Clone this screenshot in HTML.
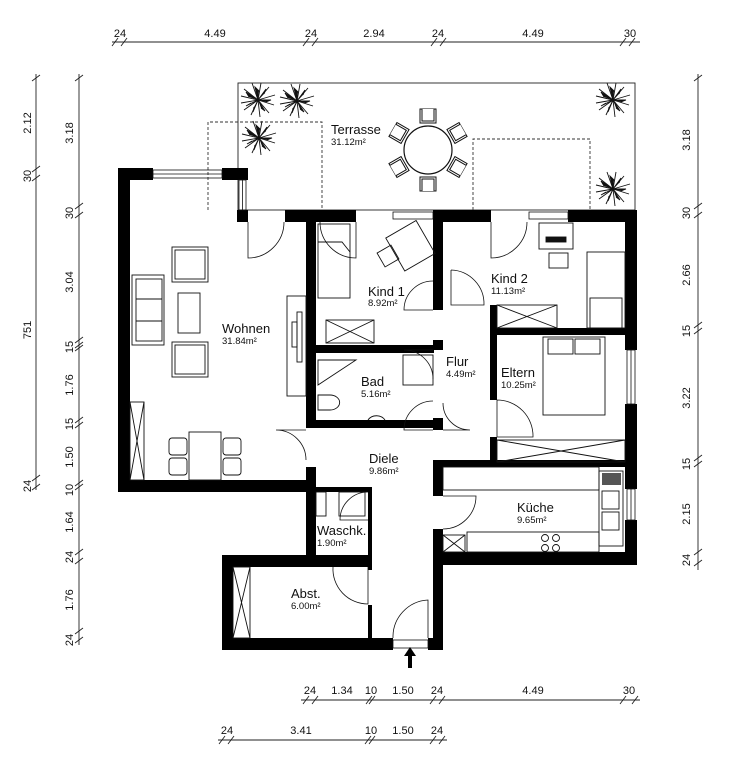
<!DOCTYPE html>
<html><head><meta charset="utf-8"><style>
html,body{margin:0;padding:0;background:#fff}
svg{display:block}
text{font-family:"Liberation Sans",sans-serif;fill:#111}
.t{font-size:13px}
.s{font-size:9.5px}
.d{font-size:11px}
</style></head><body>
<svg width="731" height="768" viewBox="0 0 731 768" xmlns="http://www.w3.org/2000/svg">
<defs>
<g id="pl" stroke="#111" stroke-width="0.9" fill="none">
<path d="M0 0L-17 -4M0 0L-14 -11M0 0L-6 -17M0 0L3 -17M0 0L11 -13M0 0L17 -5M0 0L16 5M0 0L11 13M0 0L2 17M0 0L-7 15M0 0L-14 10M0 0L-17 3"/>
<path d="M0 0L-12 -8L-9 -3M0 0L-3 -13L1 -9M0 0L8 -11L6 -6M0 0L13 0L8 2M0 0L7 11L3 8M0 0L-5 12L-4 7M0 0L-12 6L-7 3" fill="#111"/>
</g>
<g id="ch" stroke="#111" stroke-width="1" fill="#fff">
<path d="M-8 -7L-8 7L8 7L8 -7Z"/><path d="M-6 -7L-6 5L6 5L6 -7"/>
</g>
</defs>
<g stroke="#222" stroke-width="0.9" fill="none">
<line x1="112" y1="42" x2="640" y2="42"/>
<path d="M112 46l6 -8M121 46l6 -8M303 46l6 -8M312 46l6 -8M431 46l6 -8M440 46l6 -8M620 46l6 -8M629 46l6 -8"/>
<line x1="301" y1="700" x2="640" y2="700"/>
<path d="M303 704l6 -8M312 704l6 -8M366 704l6 -8M369 704l6 -8M430 704l6 -8M439 704l6 -8M620 704l6 -8M632 704l6 -8"/>
<line x1="218" y1="740" x2="447" y2="740"/>
<path d="M219 744l6 -8M228 744l6 -8M365 744l6 -8M369 744l6 -8M430 744l6 -8M439 744l6 -8"/>
<line x1="36" y1="74" x2="36" y2="490"/>
<path d="M32 81l8 -6M32 172l8 -6M32 181l8 -6M32 481l8 -6M32 490l8 -6"/>
<line x1="79" y1="74" x2="79" y2="645"/>
<path d="M75 81l8 -6M75 209l8 -6M75 218l8 -6M75 343l8 -6M75 348l8 -6M75 351l8 -6M75 423l8 -6M75 428l8 -6M75 486l8 -6M75 490l8 -6M75 555l8 -6M75 564l8 -6M75 634l8 -6M75 643l8 -6"/>
<line x1="698" y1="74" x2="698" y2="570"/>
<path d="M694 81l8 -6M694 209l8 -6M694 218l8 -6M694 328l8 -6M694 334l8 -6M694 461l8 -6M694 467l8 -6M694 555l8 -6M694 566l8 -6"/>
</g>
<g class="d">
<text x="120" y="37" text-anchor="middle">24</text><text x="215" y="37" text-anchor="middle">4.49</text>
<text x="311" y="37" text-anchor="middle">24</text><text x="374" y="37" text-anchor="middle">2.94</text>
<text x="438" y="37" text-anchor="middle">24</text><text x="533" y="37" text-anchor="middle">4.49</text>
<text x="630" y="37" text-anchor="middle">30</text>
<text x="310" y="694" text-anchor="middle">24</text><text x="342" y="694" text-anchor="middle">1.34</text>
<text x="371" y="694" text-anchor="middle">10</text><text x="403" y="694" text-anchor="middle">1.50</text>
<text x="437" y="694" text-anchor="middle">24</text><text x="533" y="694" text-anchor="middle">4.49</text>
<text x="629" y="694" text-anchor="middle">30</text>
<text x="227" y="734" text-anchor="middle">24</text><text x="301" y="734" text-anchor="middle">3.41</text>
<text x="371" y="734" text-anchor="middle">10</text><text x="403" y="734" text-anchor="middle">1.50</text>
<text x="437" y="734" text-anchor="middle">24</text>
<g text-anchor="middle">
<text transform="translate(31,123) rotate(-90)">2.12</text>
<text transform="translate(31,176) rotate(-90)">30</text>
<text transform="translate(31,330) rotate(-90)">751</text>
<text transform="translate(31,486) rotate(-90)">24</text>
<text transform="translate(73,133) rotate(-90)">3.18</text>
<text transform="translate(73,213) rotate(-90)">30</text>
<text transform="translate(73,282) rotate(-90)">3.04</text>
<text transform="translate(73,347) rotate(-90)">15</text>
<text transform="translate(73,385) rotate(-90)">1.76</text>
<text transform="translate(73,424) rotate(-90)">15</text>
<text transform="translate(73,457) rotate(-90)">1.50</text>
<text transform="translate(73,490) rotate(-90)">10</text>
<text transform="translate(73,522) rotate(-90)">1.64</text>
<text transform="translate(73,557) rotate(-90)">24</text>
<text transform="translate(73,600) rotate(-90)">1.76</text>
<text transform="translate(73,640) rotate(-90)">24</text>
<text transform="translate(690,140) rotate(-90)">3.18</text>
<text transform="translate(690,213) rotate(-90)">30</text>
<text transform="translate(690,275) rotate(-90)">2.66</text>
<text transform="translate(690,331) rotate(-90)">15</text>
<text transform="translate(690,398) rotate(-90)">3.22</text>
<text transform="translate(690,464) rotate(-90)">15</text>
<text transform="translate(690,514) rotate(-90)">2.15</text>
<text transform="translate(690,560) rotate(-90)">24</text>
</g>
</g>

<rect x="238" y="83" width="397" height="127" fill="none" stroke="#222" stroke-width="0.9"/>
<g stroke="#333" stroke-width="0.9" fill="none" stroke-dasharray="3,2">
<path d="M208 210V122H322V210"/><path d="M473 210V139H590V210"/>
</g>
<use href="#ch" transform="translate(428,116)"/>
<use href="#ch" transform="translate(428,184) rotate(180)"/>
<use href="#ch" transform="translate(399,133) rotate(-60)"/>
<use href="#ch" transform="translate(457,133) rotate(60)"/>
<use href="#ch" transform="translate(399,167) rotate(-120)"/>
<use href="#ch" transform="translate(457,167) rotate(120)"/>
<circle cx="428" cy="150" r="24" fill="#fff" stroke="#111" stroke-width="1.2"/>
<use href="#pl" transform="translate(258,100)"/>
<use href="#pl" transform="translate(297,101)"/>
<use href="#pl" transform="translate(259,138)"/>
<use href="#pl" transform="translate(613,100)"/>
<use href="#pl" transform="translate(613,189)"/>
<text class="t" x="331" y="134">Terrasse</text><text class="s" x="331" y="145">31.12m²</text>

<g fill="#000">
<rect x="118" y="168" width="35" height="12"/><rect x="222" y="168" width="26" height="12"/>
<rect x="118" y="168" width="12" height="324"/>
<rect x="118" y="480" width="198" height="12"/>
<rect x="237" y="210" width="11" height="12"/>
<rect x="285" y="210" width="71" height="12"/>
<rect x="433" y="210" width="58" height="12"/>
<rect x="568" y="210" width="67" height="12"/>
<rect x="625" y="210" width="12" height="140"/>
<rect x="625" y="404" width="12" height="85"/>
<rect x="625" y="520" width="12" height="45"/>
<rect x="306" y="210" width="10" height="217"/>
<rect x="306" y="467" width="10" height="100"/>
<rect x="306" y="345" width="128" height="8"/>
<rect x="306" y="420" width="128" height="8"/>
<rect x="433" y="210" width="10" height="100"/>
<rect x="433" y="340" width="10" height="10"/>
<rect x="433" y="418" width="10" height="12"/>
<rect x="433" y="460" width="10" height="36"/>
<rect x="433" y="529" width="10" height="121"/>
<rect x="490" y="305" width="7" height="95"/>
<rect x="490" y="437" width="7" height="30"/>
<rect x="490" y="328" width="145" height="7"/>
<rect x="433" y="460" width="204" height="7"/>
<rect x="433" y="552" width="204" height="13"/>
<rect x="316" y="487" width="56" height="5"/>
<rect x="368" y="487" width="4" height="83"/>
<rect x="368" y="605" width="4" height="40"/>
<rect x="222" y="555" width="150" height="12"/>
<rect x="222" y="555" width="11" height="95"/>
<rect x="222" y="638" width="171" height="12"/>
<rect x="428" y="638" width="15" height="12"/>
</g>
<g stroke="#111" stroke-width="0.8" fill="none">
<rect x="153" y="170" width="69" height="8"/><line x1="153" y1="174" x2="222" y2="174"/>
<rect x="239" y="180" width="7" height="30"/><line x1="242.5" y1="180" x2="242.5" y2="210"/>
<rect x="393" y="212" width="40" height="7"/>
<rect x="529" y="212" width="39" height="7"/>
<rect x="627" y="350" width="8" height="54"/><line x1="631" y1="350" x2="631" y2="404"/>
<rect x="627" y="489" width="8" height="31"/><line x1="631" y1="489" x2="631" y2="520"/>
<rect x="393" y="640" width="35" height="8"/>
</g>
<g stroke="#111" stroke-width="0.8" fill="none">
<path d="M248 222V258A36 36 0 0 0 284 222"/>
<path d="M356 222V258A36 36 0 0 1 320 222" />
<path d="M491 222V258A36 36 0 0 0 527 222"/>
<path d="M433 310H404A29 29 0 0 1 433 281"/>
<path d="M433 350H404A29 29 0 0 1 433 379"/>
<path d="M433 430H404A29 29 0 0 1 433 401"/>
<path d="M306 430H276A30 30 0 0 1 306 460"/>
<path d="M443 430H470A27 27 0 0 1 443 403"/>
<path d="M451 270V305H484A34 34 0 0 0 451 270"/>
<path d="M497 400V437H533A36 36 0 0 0 497 400"/>
<path d="M443 496H476A33 33 0 0 1 443 529"/>
<path d="M368 567V604A35 35 0 0 1 333 567"/>
<path d="M428 638V600A37 37 0 0 0 393 638"/>
<path d="M368 520H340A28 28 0 0 1 368 492"/>
</g>
<g stroke="#111" stroke-width="0.9" fill="none">
<rect x="132" y="275" width="32" height="70"/><rect x="136" y="279" width="26" height="62"/><line x1="136" y1="299" x2="162" y2="299"/><line x1="136" y1="321" x2="162" y2="321"/>
<rect x="172" y="247" width="36" height="35"/><rect x="175" y="250" width="30" height="29"/>
<rect x="172" y="342" width="36" height="35"/><rect x="175" y="345" width="30" height="29"/>
<rect x="178" y="293" width="22" height="40"/>
<rect x="287" y="296" width="19" height="100"/><rect x="297" y="312" width="5" height="50"/><rect x="292" y="322" width="5" height="25"/>
<rect x="130" y="402" width="14" height="78"/><path d="M130 402L144 480M144 402L130 480"/>
<rect x="189" y="432" width="32" height="48"/>
<rect x="169" y="438" width="18" height="17" rx="3"/><rect x="169" y="458" width="18" height="17" rx="3"/>
<rect x="223" y="438" width="18" height="17" rx="3"/><rect x="223" y="458" width="18" height="17" rx="3"/>
<rect x="318" y="224" width="32" height="74"/><path d="M318 242H342L350 252"/>
<rect x="326" y="320" width="48" height="23"/><path d="M326 320L374 343M374 320L326 343"/>
<rect x="393" y="227" width="35" height="38" transform="rotate(-30 410 246)"/>
<rect x="380" y="248" width="16" height="16" transform="rotate(-30 388 256)"/>
<path d="M318 360H356L318 385Z"/>
<rect x="403" y="355" width="30" height="30"/>
<path d="M318 395H330A9 7 0 0 1 330 410H318Z"/>
<path d="M368 420A10 9 0 0 1 385 420"/>
<rect x="539" y="223" width="34" height="26"/><rect x="546" y="237" width="20" height="5" fill="#111"/>
<rect x="549" y="253" width="19" height="15"/>
<rect x="587" y="252" width="38" height="76"/><rect x="590" y="298" width="32" height="30"/>
<rect x="497" y="305" width="60" height="23"/><path d="M497 305L557 328M557 305L497 328"/>
<rect x="543" y="337" width="62" height="78"/><rect x="548" y="339" width="25" height="15"/><rect x="575" y="339" width="25" height="15"/>
<rect x="497" y="440" width="128" height="22"/><path d="M497 440L625 462M625 440L497 462"/>
<rect x="443" y="467" width="156" height="23"/>
<rect x="599" y="471" width="24" height="75"/><rect x="602" y="491" width="17" height="18"/><rect x="602" y="512" width="17" height="18"/>
<rect x="467" y="532" width="132" height="20"/>
<circle cx="545" cy="538" r="3.5"/><circle cx="556" cy="538" r="3.5"/><circle cx="545" cy="548" r="3.5"/><circle cx="556" cy="548" r="3.5"/>
<rect x="443" y="535" width="22" height="17"/><path d="M443 535L465 552M465 535L443 552"/>
<rect x="233" y="567" width="17" height="71"/><path d="M233 567L250 638M250 567L233 638"/>
<rect x="339" y="492" width="26" height="24"/><rect x="316" y="492" width="10" height="24"/>
</g>
<rect x="602" y="473" width="19" height="12" fill="#555"/>
<path d="M408 668H412V656H416L410 647L404 656H408Z" fill="#000"/>
<text class="t" x="222" y="333">Wohnen</text><text class="s" x="222" y="344">31.84m²</text>
<text class="t" x="368" y="296">Kind 1</text><text class="s" x="368" y="306">8.92m²</text>
<text class="t" x="361" y="386">Bad</text><text class="s" x="361" y="397">5.16m²</text>
<text class="t" x="446" y="366">Flur</text><text class="s" x="446" y="377">4.49m²</text>
<text class="t" x="491" y="283">Kind 2</text><text class="s" x="491" y="294">11.13m²</text>
<text class="t" x="501" y="377">Eltern</text><text class="s" x="501" y="388">10.25m²</text>
<text class="t" x="517" y="512">Küche</text><text class="s" x="517" y="523">9.65m²</text>
<text class="t" x="369" y="463">Diele</text><text class="s" x="369" y="474">9.86m²</text>
<text class="t" x="317" y="535">Waschk.</text><text class="s" x="317" y="546">1.90m²</text>
<text class="t" x="291" y="598">Abst.</text><text class="s" x="291" y="609">6.00m²</text>
</svg>
</body></html>
